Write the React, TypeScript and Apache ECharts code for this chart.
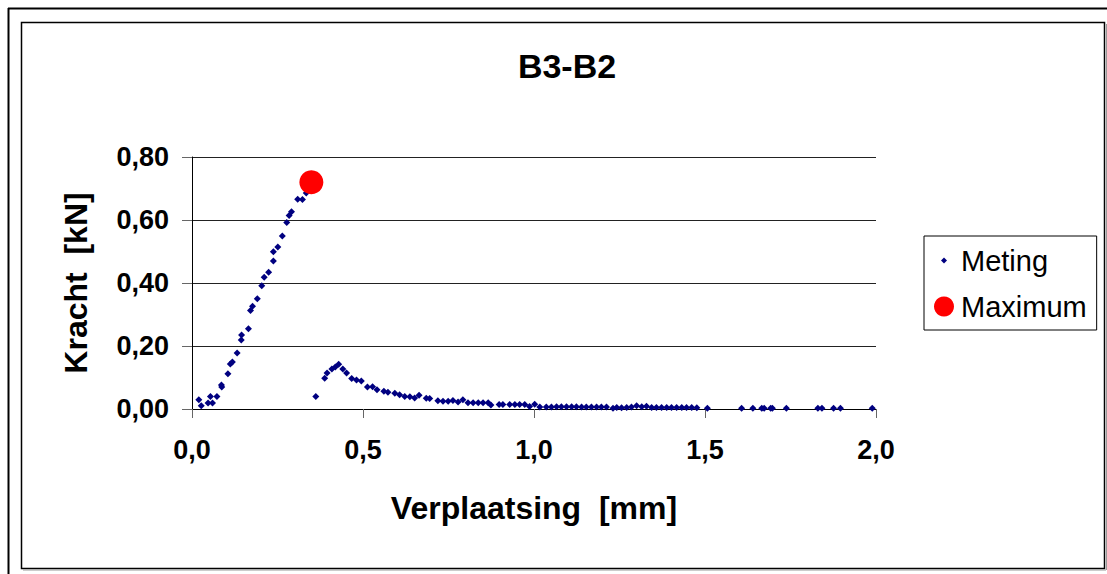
import React, { useEffect, useRef } from "react";
import * as echarts from "echarts";

const titleText = "B3-B2";
const xAxisName = "Verplaatsing  [mm]";
const yAxisName = "Kracht  [kN]";
const seriesNames = ["Meting", "Maximum"];

const metingX = [
  0.020, 0.027, 0.047, 0.054, 0.060, 0.073, 0.086, 0.087, 0.105, 0.112, 0.118, 0.132, 0.144, 0.145,
  0.165, 0.171, 0.177, 0.191, 0.204, 0.211, 0.224, 0.238, 0.238, 0.251, 0.264, 0.277, 0.284, 0.291,
  0.309, 0.323, 0.334,
  0.362, 0.388, 0.395, 0.409, 0.419, 0.429, 0.441, 0.452, 0.467, 0.481, 0.495, 0.513, 0.528, 0.541,
  0.561, 0.573, 0.593, 0.607, 0.622, 0.637, 0.651, 0.664, 0.685, 0.695, 0.719, 0.734, 0.749, 0.763,
  0.778, 0.792, 0.807, 0.822, 0.837, 0.851, 0.866, 0.874, 0.898, 0.909, 0.929, 0.944, 0.958, 0.973,
  0.987, 1.002, 1.017, 1.036, 1.051, 1.066, 1.080, 1.095, 1.110, 1.124, 1.139, 1.153, 1.168, 1.183,
  1.197, 1.212, 1.231, 1.242, 1.256, 1.271, 1.285, 1.300, 1.315, 1.329, 1.344, 1.358, 1.373, 1.388,
  1.402, 1.417, 1.432, 1.446, 1.461, 1.476, 1.507, 1.607, 1.640, 1.666, 1.673, 1.692, 1.697, 1.738,
  1.830, 1.842, 1.876, 1.896, 1.989,
];
const metingY = [
  0.029, 0.010, 0.019, 0.040, 0.019, 0.040, 0.076, 0.070, 0.112, 0.143, 0.149, 0.178, 0.219, 0.235,
  0.255, 0.313, 0.326, 0.350, 0.391, 0.418, 0.434, 0.470, 0.499, 0.514, 0.549, 0.592, 0.614, 0.626,
  0.666, 0.665, 0.686,
  0.040, 0.098, 0.114, 0.127, 0.133, 0.142, 0.127, 0.114, 0.097, 0.092, 0.089, 0.070, 0.071, 0.061,
  0.056, 0.053, 0.050, 0.045, 0.040, 0.039, 0.035, 0.044, 0.034, 0.033, 0.026, 0.025, 0.025, 0.027,
  0.022, 0.029, 0.020, 0.020, 0.020, 0.020, 0.020, 0.013, 0.014, 0.014, 0.014, 0.014, 0.014, 0.014,
  0.008, 0.015, 0.006, 0.006, 0.006, 0.007, 0.007, 0.007, 0.007, 0.007, 0.006, 0.006, 0.006, 0.006,
  0.006, 0.006, 0.002, 0.005, 0.004, 0.005, 0.006, 0.010, 0.007, 0.009, 0.005, 0.005, 0.005, 0.005,
  0.005, 0.005, 0.005, 0.005, 0.005, 0.004, 0.002, 0.002, 0.002, 0.002, 0.002, 0.002, 0.002, 0.002,
  0.002, 0.002, 0.002, 0.002, 0.002,
];
const maximumX = [0.349];
const maximumY = [0.720];

const xMin = 0;
const xMax = 2;
const xInterval = 0.5;
const yMin = 0;
const yMax = 0.8;
const yInterval = 0.2;

const FONT = "'Liberation Sans', Arial, sans-serif";

export default function App() {
  const ref = useRef<HTMLDivElement>(null);
  useEffect(() => {
    if (!ref.current) return;
    const chart = echarts.init(ref.current, null, { renderer: "svg" });
    const metingData = metingX.map((x, i) => [x, metingY[i]]);
    const maxData = maximumX.map((x, i) => [x, maximumY[i]]);
    chart.setOption({
      animation: false,
      backgroundColor: "#ffffff",
      title: {
        text: titleText,
        left: 562,
        top: 44,
        textAlign: "center",
        textStyle: { fontFamily: FONT, fontSize: 34, fontWeight: "bold", color: "#000" },
      },
      legend: {
        orient: "vertical",
        left: 924,
        top: 236,
        padding: [9, 10, 8, 10],
        itemGap: 15,
        itemWidth: 20,
        itemHeight: 20,
        backgroundColor: "#fff",
        borderColor: "#000",
        borderWidth: 1,
        textStyle: { fontFamily: FONT, fontSize: 29, color: "#000", lineHeight: 31, padding: [0, 0, 0, 2] },
        data: [
          { name: seriesNames[0], icon: "path://M0,0M20,20M7,10L10,7L13,10L10,13Z" },
          { name: seriesNames[1], icon: "circle" },
        ],
      },
      grid: { left: 192, top: 157, width: 684, height: 252, containLabel: false },
      xAxis: {
        type: "value",
        min: xMin,
        max: xMax,
        interval: xInterval,
        name: xAxisName,
        nameLocation: "middle",
        nameGap: 83,
        nameTextStyle: { fontFamily: FONT, fontSize: 32, fontWeight: "bold", color: "#000", verticalAlign: "top" },
        axisLine: { show: true, onZero: false, lineStyle: { color: "#000", width: 1 } },
        axisTick: { show: true, inside: false, length: 9, lineStyle: { color: "#666" } },
        splitLine: { show: false },
        axisLabel: {
          margin: 27,
          fontFamily: FONT,
          fontSize: 27,
          fontWeight: "bold",
          color: "#000",
          formatter: (v: number) => v.toFixed(1).replace(".", ","),
        },
      },
      yAxis: {
        type: "value",
        min: yMin,
        max: yMax,
        interval: yInterval,
        name: yAxisName,
        nameLocation: "middle",
        nameGap: 100,
        nameRotate: 90,
        nameTextStyle: { fontFamily: FONT, fontSize: 32, fontWeight: "bold", color: "#000" },
        axisLine: { show: true, onZero: false, lineStyle: { color: "#000", width: 1 } },
        axisTick: { show: true, inside: false, length: 10, lineStyle: { color: "#666" } },
        splitLine: { show: true, lineStyle: { color: "#222", width: 1 } },
        axisLabel: {
          margin: 23,
          fontFamily: FONT,
          fontSize: 27,
          fontWeight: "bold",
          color: "#000",
          formatter: (v: number) => v.toFixed(2).replace(".", ","),
        },
      },
      series: [
        {
          name: seriesNames[0],
          type: "scatter",
          data: metingData,
          symbol: "diamond",
          symbolSize: 7,
          itemStyle: { color: "#000080", opacity: 1 },
          z: 2,
        },
        {
          name: seriesNames[1],
          type: "scatter",
          data: maxData,
          symbol: "circle",
          symbolSize: 24,
          itemStyle: { color: "#ff0000", opacity: 1 },
          z: 3,
        },
      ],
      graphic: [
        { type: "line", shape: { x1: 8, y1: 8.5, x2: 1107, y2: 8.5 }, style: { stroke: "#000", lineWidth: 2 }, silent: true },
        { type: "line", shape: { x1: 8.5, y1: 8, x2: 8.5, y2: 574 }, style: { stroke: "#000", lineWidth: 2 }, silent: true },
        { type: "rect", shape: { x: 21.5, y: 22.5, width: 1083, height: 546 }, style: { fill: "none", stroke: "#000", lineWidth: 1.5 }, silent: true },
        { type: "line", shape: { x1: 1106.5, y1: 24, x2: 1106.5, y2: 570 }, style: { stroke: "#999", lineWidth: 1 }, silent: true },
        { type: "line", shape: { x1: 23, y1: 570, x2: 1106, y2: 570 }, style: { stroke: "#999", lineWidth: 1 }, silent: true },
      ],
    });
    return () => chart.dispose();
  }, []);
  return (
    <div
      ref={ref}
      style={{ position: "absolute", left: 0, top: 0, width: 1107, height: 574, background: "#fff" }}
    />
  );
}
